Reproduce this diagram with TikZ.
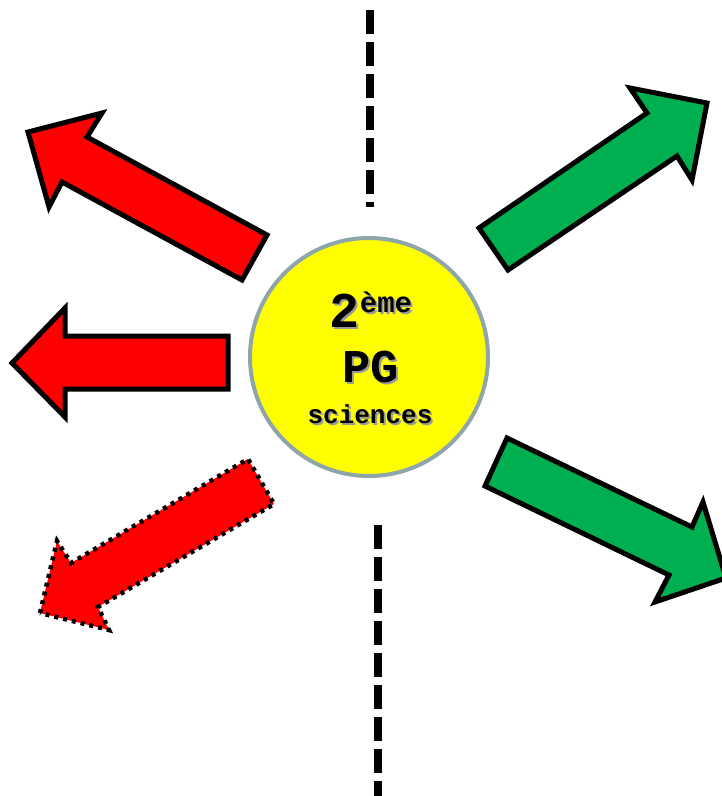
\documentclass[tikz,border=0pt]{standalone}
\usepackage{fontspec}
\setmonofont{Liberation Mono}
\definecolor{rougefleche}{HTML}{FF0000}
\definecolor{vertfleche}{HTML}{00B050}
\definecolor{jaunerond}{HTML}{FFFF00}
\definecolor{grisbord}{HTML}{8EA6AA}
\newcommand{\avecombre}[1]{\makebox[0pt][l]{\hspace{2pt}\raisebox{-2pt}{\color{black!40}#1}}#1}

\begin{document}
\begin{tikzpicture}[x=1pt,y=-1pt,
  rouge/.style={draw=black,line width=5pt,fill=rougefleche},
  rougept/.style={draw=black,line width=4.5pt,dash pattern=on 4pt off 5pt,fill=rougefleche},
  vert/.style={draw=black,line width=5pt,fill=vertfleche},
  rond/.style={circle,draw=grisbord,line width=4pt,fill=jaunerond,minimum size=238pt,inner sep=0pt},
  tirets/.style={line width=8pt,dash pattern=on 24pt off 8pt},
  ecrit/.style={inner sep=0pt,anchor=base,font=\ttfamily\bfseries}]
\useasboundingbox (0,0) rectangle (722,796);

\draw[tirets] (370,10) -- (370,207);
\draw[tirets] (378,525) -- (378,796);

\draw[rouge] (28,132) -- (102,113) -- (87,137) -- (267,235) -- (242,280) -- (62,182) -- (49,207) -- cycle;
\draw[rouge] (12,363) -- (65,308) -- (65,336) -- (228,336) -- (228,389) -- (65,389) -- (65,417) -- cycle;
\draw[rougept] (40,613) -- (57,541) -- (71,563) -- (248,459) -- (274,504) -- (98,607) -- (109,630) -- cycle;

\draw[vert] (707,103) -- (692,180) -- (677,156) -- (508,270) -- (479,228) -- (647,113) -- (630,88) -- cycle;
\draw[vert] (726,578) -- (655,602) -- (669,575) -- (485,486) -- (507,438) -- (692,527) -- (703,502) -- cycle;

\node[rond] (centre) at (369,357) {};

\node[ecrit] (deux) at (371,327) {\avecombre{\fontsize{50}{50}\selectfont 2}\avecombre{\raisebox{15pt}{\fontsize{29}{29}\selectfont ème}}};
\node[ecrit] (pg) at (371,382) {\fontsize{47}{47}\selectfont\avecombre{PG}};
\node[ecrit] (sci) at (370,423) {\fontsize{26}{26}\selectfont\avecombre{sciences}};
\end{tikzpicture}
\end{document}
